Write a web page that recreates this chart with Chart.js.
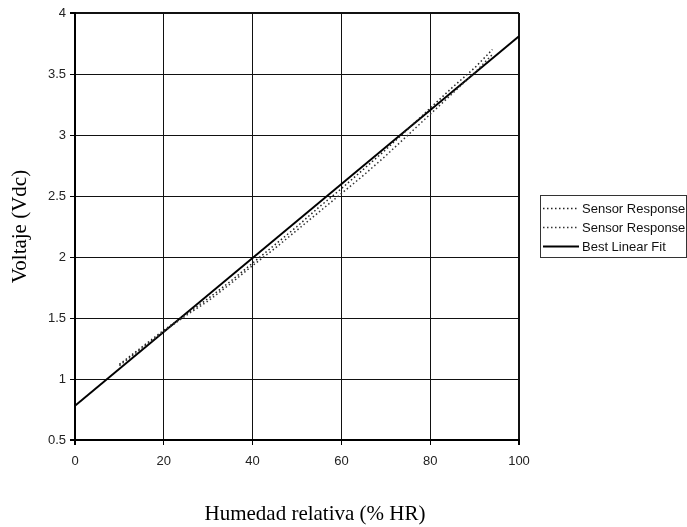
<!DOCTYPE html>
<html>
<head>
<meta charset="utf-8">
<title>Voltaje vs Humedad relativa</title>
<script src="https://cdn.jsdelivr.net/npm/chart.js@4/dist/chart.umd.min.js"></script>
<style>
  html, body { margin: 0; padding: 0; background: #fff; }
  #chart { display: block; }
</style>
</head>
<body>
<canvas id="chart" width="687" height="527"></canvas>
<script>
// humidity readings (% HR) and the two sensor voltage curves
const humidity = [10, 15, 20, 25, 30, 35, 40, 45, 50, 55, 60, 65, 70, 75, 80, 85, 90, 94];
const sensorA = [1.12, 1.26, 1.40, 1.53, 1.66, 1.80, 1.95, 2.10, 2.25, 2.41, 2.56, 2.72, 2.88, 3.05, 3.22, 3.39, 3.55, 3.70];
const sensorB = [1.11, 1.25, 1.39, 1.52, 1.64, 1.78, 1.93, 2.07, 2.22, 2.37, 2.52, 2.67, 2.83, 3.00, 3.17, 3.34, 3.51, 3.66];

// straight-line fit end points
const fitX = [0, 100];
const fitY = [0.78, 3.81];

const xTicks = ['0', '20', '40', '60', '80', '100'];
const yTicks = ['0.5', '1', '1.5', '2', '2.5', '3', '3.5', '4'];

const seriesNames = ['Sensor Response', 'Sensor Response', 'Best Linear Fit'];
const xTitle = 'Humedad relativa (% HR)';

function toPoints(xs, ys) {
    return xs.map((x, i) => ({ x: x, y: ys[i] }));
}

// legend box on the right and the x title (sits right of the plot centre)
const boxLegend = {
    id: 'boxLegend',
    afterDraw(chart) {
        const ctx = chart.ctx;
        const left = 540.5, top = 195.5, w = 146, h = 62;
        ctx.save();
        ctx.strokeStyle = '#333';
        ctx.lineWidth = 1;
        ctx.strokeRect(left, top, w, h);
        ctx.font = '13px "Liberation Sans", Arial, sans-serif';
        ctx.fillStyle = '#111';
        ctx.textBaseline = 'middle';
        const rows = [208, 227, 246];
        chart.data.datasets.forEach((ds, i) => {
            const y = rows[i];
            ctx.beginPath();
            ctx.setLineDash(ds.borderDash || []);
            ctx.lineWidth = ds.borderWidth;
            ctx.strokeStyle = ds.borderColor;
            ctx.moveTo(543, y + 0.5);
            ctx.lineTo(579, y + 0.5);
            ctx.stroke();
            ctx.setLineDash([]);
            ctx.fillText(ds.label, 582, y + 1);
        });

        ctx.font = '21px "Liberation Serif", "Times New Roman", serif';
        ctx.fillStyle = '#000';
        ctx.textAlign = 'center';
        ctx.fillText(xTitle, 315, 514);
        ctx.restore();
    }
};

const edgeWidth = (c) => (c.index === 0 || c.index === c.chart.scales[c.scale.id].ticks.length - 1) ? 2 : 1;

new Chart(document.getElementById('chart'), {
    type: 'line',
    data: {
        datasets: [
            {
                label: seriesNames[0],
                data: toPoints(humidity, sensorA),
                borderColor: '#222',
                borderWidth: 1.5,
                borderDash: [1.5, 2.5],
                pointRadius: 0,
                fill: false
            },
            {
                label: seriesNames[1],
                data: toPoints(humidity, sensorB),
                borderColor: '#333',
                borderWidth: 1.5,
                borderDash: [1.5, 2.5],
                pointRadius: 0,
                fill: false
            },
            {
                label: seriesNames[2],
                data: toPoints(fitX, fitY),
                borderColor: '#000',
                borderWidth: 2,
                pointRadius: 0,
                fill: false
            }
        ]
    },
    options: {
        responsive: false,
        animation: false,
        layout: { padding: { left: 0, top: 13, right: 168, bottom: 0 } },
        plugins: {
            legend: { display: false },
            tooltip: { enabled: false }
        },
        scales: {
            x: {
                type: 'linear',
                min: 0,
                max: 100,
                afterFit(scale) { scale.height = 87; },
                border: { color: '#000', width: 2 },
                grid: {
                    color: '#111',
                    lineWidth: edgeWidth,
                    tickLength: 5,
                    tickColor: '#000'
                },
                ticks: {
                    stepSize: 20,
                    padding: 9,
                    color: '#222',
                    font: { family: '"Liberation Sans", Arial, sans-serif', size: 13 },
                    callback: (v, i) => xTicks[i]
                }
            },
            y: {
                type: 'linear',
                min: 0.5,
                max: 4,
                afterFit(scale) { scale.width = 75; },
                border: { color: '#000', width: 2 },
                grid: {
                    color: '#111',
                    lineWidth: edgeWidth,
                    tickLength: 5,
                    tickColor: '#000'
                },
                ticks: {
                    stepSize: 0.5,
                    padding: 4,
                    color: '#222',
                    font: { family: '"Liberation Sans", Arial, sans-serif', size: 13 },
                    callback: (v, i) => yTicks[i]
                },
                title: {
                    display: true,
                    text: 'Voltaje (Vdc)',
                    color: '#000',
                    font: { family: '"Liberation Serif", "Times New Roman", serif', size: 21 },
                    padding: { top: 8, bottom: 0 }
                }
            }
        }
    },
    plugins: [boxLegend]
});
</script>
</body>
</html>
